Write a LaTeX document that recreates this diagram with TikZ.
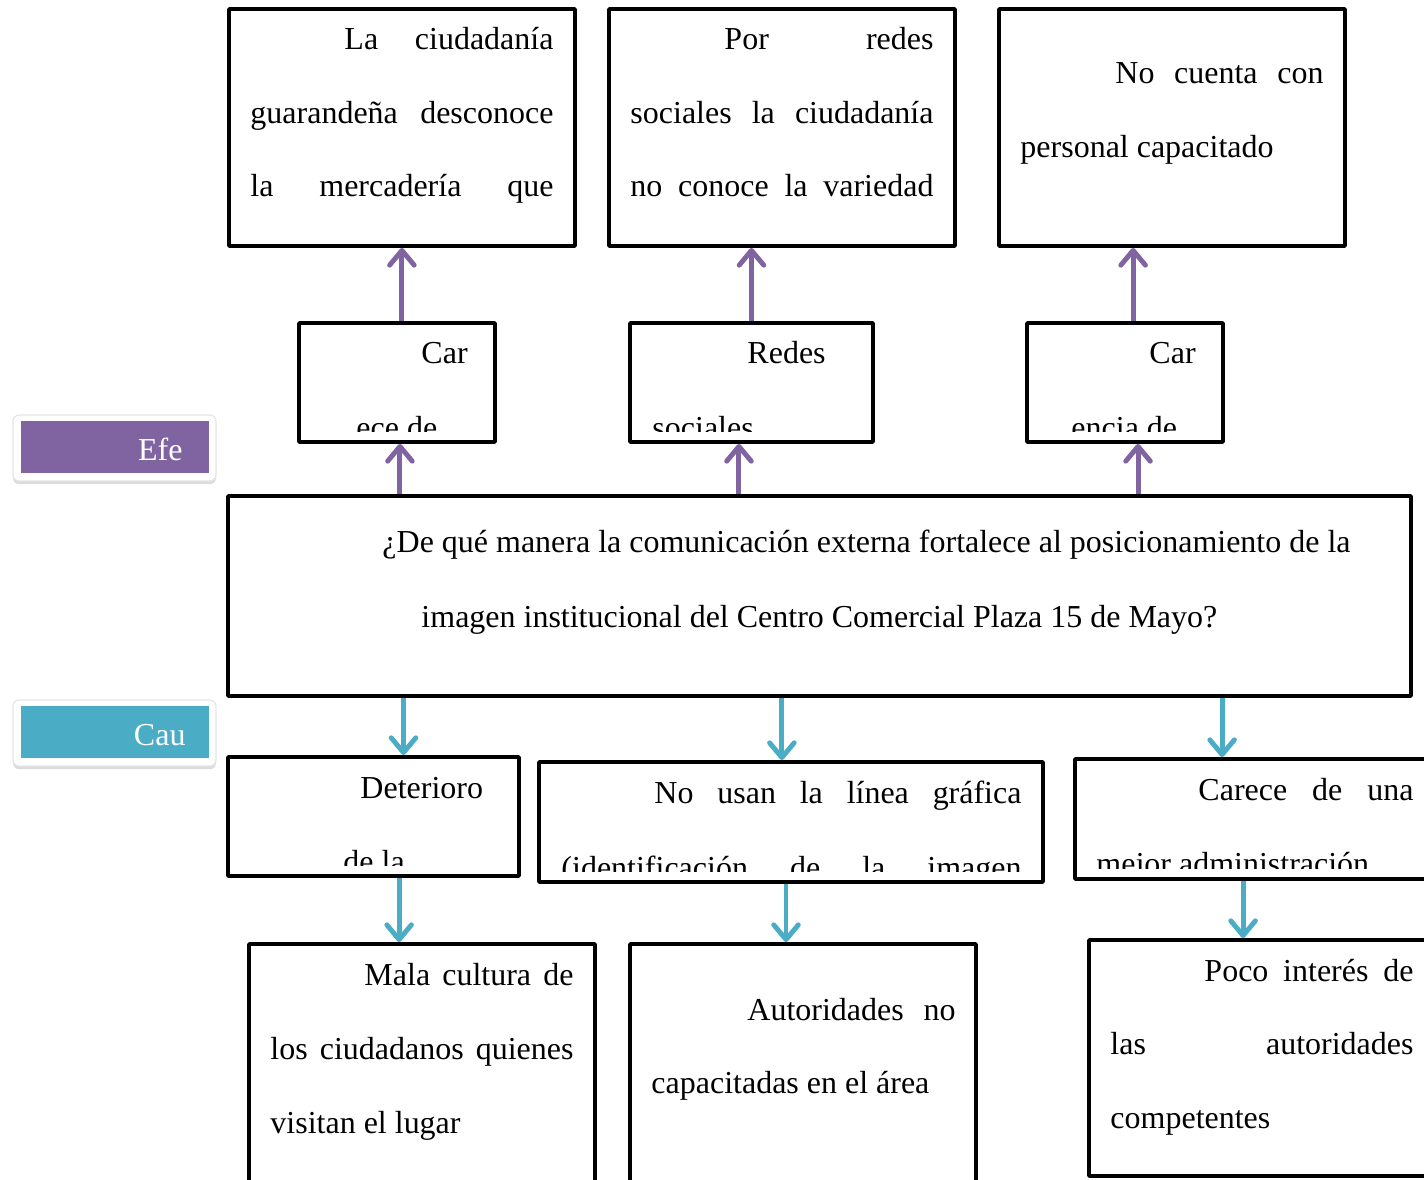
\documentclass[tikz,border=0pt]{standalone}
\usepackage{fontspec}
\setmainfont{Liberation Serif}
\usetikzlibrary{fit,shadows,arrows.meta}

\definecolor{morado}{HTML}{8064A2}
\definecolor{celeste}{HTML}{4BACC6}

\tikzset{
    cuadro/.style={draw, line width=1.6pt, inner sep=0pt, rounded corners=0.4pt},
    linea/.style={anchor=base west, inner sep=0pt, font=\fontsize{13}{15}\selectfont},
    flechamorada/.style={draw=morado, line width=2pt, -{Straight Barb[length=6pt,width=10pt,round]}},
    flechaazul/.style={draw=celeste, line width=2pt, -{Straight Barb[length=6pt,width=10pt,round]}},
    etiqueta/.style={fill=white, draw=black!10, line width=0.5pt, rounded corners=2.5pt, inner sep=0pt,
        drop shadow={shadow xshift=0pt, shadow yshift=-1.3pt, opacity=0.28}},
}

% lineas de texto dentro de un cuadro (recortadas por el borde)
\newcommand{\lineas}[2]{%
    \begin{scope}
        \clip (#1.north west) rectangle ([yshift=4.9pt]#1.south east);
        \foreach \xa/\xb/\y/\t [count=\i] in {#2} {
            \ifnum\xb=0
                \node[linea] (#1-\i) at (\xa,\y) {\t};
            \else
                \pgfmathsetlengthmacro\ancho{(\xb-\xa)*0.4065pt}
                \node[linea] (#1-\i) at (\xa,\y) {\makebox[\ancho][s]{\t}};
            \fi
        }
    \end{scope}}

\begin{document}
\begin{tikzpicture}[x=0.4065pt, y=-0.4065pt]

\useasboundingbox (0,0) rectangle (1424,1180);
\clip (0,0) rectangle (1424,1180);

% Efectos
\node[cuadro, fit={(229,9) (575,246)}] (t1) {};
\node[cuadro, fit={(609,9) (955,246)}] (t2) {};
\node[cuadro, fit={(999,9) (1345,246)}] (t3) {};

\node[cuadro, fit={(299,323) (495,442)}] (m1) {};
\node[cuadro, fit={(630,323) (873,442)}] (m2) {};
\node[cuadro, fit={(1027,323) (1223,442)}] (m3) {};

% Problema
\node[cuadro, fit={(228,496) (1411,696)}] (p) {};

% Causas
\node[cuadro, fit={(228,757) (519,876)}] (c1) {};
\node[cuadro, fit={(539,762) (1043,882)}] (c2) {};
\node[cuadro, fit={(1075,759) (1440,879)}] (c3) {};

\node[cuadro, fit={(249,944) (595,1200)}] (b1) {};
\node[cuadro, fit={(630,944) (976,1200)}] (b2) {};
\node[cuadro, fit={(1089,940) (1440,1176)}] (b3) {};

% Textos
\lineas{t1}{344/553/50/La ciudadanía, 250/553/124/guarandeña desconoce, 250/553/197/la mercadería que}
\lineas{t2}{724/933/50/Por redes, 630/933/124/sociales la ciudadanía, 630/933/197/no conoce la variedad}
\lineas{t3}{1115/1323/84/No cuenta con, 1020/0/158/personal capacitado}
\lineas{m1}{421/0/364/Car, 356/0/438/ece de}
\lineas{m2}{747/0/364/Redes, 652/0/438/sociales}
\lineas{m3}{1149/0/364/Car, 1071/0/438/encia de}
\lineas{p}{382/1350/553/¿De qué manera la comunicación externa fortalece al posicionamiento de la,
    421/0/627/imagen institucional del Centro Comercial Plaza 15 de Mayo?}
\lineas{c1}{360/0/798/Deterioro, 343/0/872/de la}
\lineas{c2}{654/1021/804/No usan la línea gráfica, 561/1021/878/(identificación de la imagen}
\lineas{c3}{1198/1413/800/Carece de una, 1096/0/874/mejor administración}
\lineas{b1}{364/573/985/Mala cultura de, 270/573/1059/los ciudadanos quienes, 270/0/1133/visitan el lugar}
\lineas{b2}{747/955/1020/Autoridades no, 651/0/1093/capacitadas en el área}
\lineas{b3}{1204/1413/981/Poco interés de, 1110/1413/1054/las autoridades, 1110/0/1128/competentes}

% Etiquetas
\node[etiqueta, fit={(13,415) (216,481)}] (efe) {};
\node[fill=morado, inner sep=0pt, fit={(21,421) (209,473)}] (efefondo) {};
\node[linea, anchor=base east, text=white] (efetexto) at (183,461) {Efe};

\node[etiqueta, fit={(13,700) (216,766)}] (cau) {};
\node[fill=celeste, inner sep=0pt, fit={(21,706) (209,758)}] (caufondo) {};
\node[linea, anchor=base east, text=white] (cautexto) at (186,745) {Cau};

% Flechas hacia los efectos
\draw[flechamorada] ([xshift=2pt]m1.north) -- ([xshift=2pt]m1.north |- t1.south);
\draw[flechamorada] (m2.north) -- (m2.north |- t2.south);
\draw[flechamorada] ([xshift=3.3pt]m3.north) -- ([xshift=3.3pt]m3.north |- t3.south);
\draw[flechamorada] ([xshift=1.2pt]m1.south |- p.north) -- ([xshift=1.2pt]m1.south);
\draw[flechamorada] ([xshift=-5.1pt]m2.south |- p.north) -- ([xshift=-5.1pt]m2.south);
\draw[flechamorada] ([xshift=5.3pt]m3.south |- p.north) -- ([xshift=5.3pt]m3.south);

% Flechas hacia las causas
\draw[flechaazul] ([xshift=12.2pt]c1.north |- p.south) -- ([xshift=12.2pt]c1.north);
\draw[flechaazul] ([xshift=-3.7pt]c2.north |- p.south) -- ([xshift=-3.7pt]c2.north);
\draw[flechaazul] ([xshift=-14.4pt]c3.north |- p.south) -- ([xshift=-14.4pt]c3.north);
\draw[flechaazul] ([xshift=-9.3pt]b1.north |- c1.south) -- ([xshift=-9.3pt]b1.north);
\draw[flechaazul] ([xshift=-6.9pt]b2.north |- c2.south) -- ([xshift=-6.9pt]b2.north);
\draw[flechaazul] ([xshift=-8.7pt]b3.north |- c3.south) -- ([xshift=-8.7pt]b3.north);

\end{tikzpicture}
\end{document}
